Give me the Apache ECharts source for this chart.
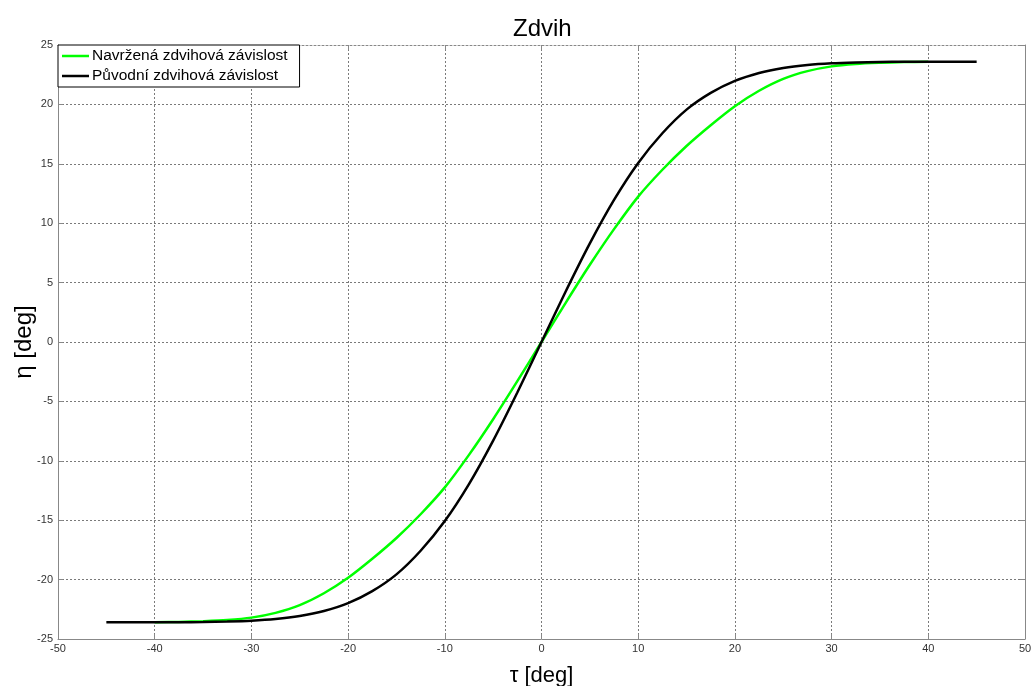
<!DOCTYPE html>
<html>
<head>
<meta charset="utf-8">
<script src="https://cdn.jsdelivr.net/npm/echarts@6/dist/echarts.min.js"></script>
<style>
html,body{margin:0;padding:0;background:#fff;}
#chart{width:1033px;height:686px;}
</style>
</head>
<body>
<div id="chart"></div>
<script>
// ---- data ----
const titleText = 'Zdvih';
const xName = '\u03C4 [deg]';
const yName = '\u03B7 [deg]';
const seriesNames = ['Navržená zdvihová závislost', 'Původní zdvihová závislost'];

const tauGreen = [-40, -37.5, -35, -32.5, -30, -27.5, -25, -22.5, -20, -17.5, -15, -12.5, -10, -7.5, -5, -2.5, 0,
                  2.5, 5, 7.5, 10, 12.5, 15, 17.5, 20, 22.5, 25, 27.5, 30, 32.5, 35, 37.5, 40];
const etaGreen = [-23.6, -23.56, -23.5, -23.4, -23.2, -22.8, -22.15, -21.15, -19.85, -18.25, -16.5, -14.5, -12.24, -9.5, -6.5, -3.3, 0,
                  3.3, 6.5, 9.5, 12.24, 14.5, 16.5, 18.25, 19.85, 21.15, 22.15, 22.8, 23.2, 23.4, 23.5, 23.56, 23.6];

const tauBlack = [-45, -42.5, -40, -37.5, -35, -32.5, -30, -27.5, -25, -22.5, -20, -17.5, -15, -12.5, -10, -7.5, -5, -2.5, 0,
                  2.5, 5, 7.5, 10, 12.5, 15, 17.5, 20, 22.5, 25, 27.5, 30, 32.5, 35, 37.5, 40, 42.5, 45];
const etaBlack = [-23.6, -23.6, -23.6, -23.59, -23.57, -23.53, -23.46, -23.32, -23.07, -22.65, -21.98, -20.97, -19.56, -17.57, -15.07, -11.96, -8.3, -4.25, 0,
                  4.25, 8.3, 11.96, 15.07, 17.57, 19.56, 20.97, 21.98, 22.65, 23.07, 23.32, 23.46, 23.53, 23.57, 23.59, 23.6, 23.6, 23.6];

const xMin = -50, xMax = 50, xStep = 10;
const yMin = -25, yMax = 25, yStep = 5;

function zip(a, b) { return a.map((v, i) => [v, b[i]]); }

const FONT = 'Liberation Sans, Arial, sans-serif';
const gridLine = { show: true, lineStyle: { color: '#7a7a7a', type: [2, 2], width: 1 } };

const chart = echarts.init(document.getElementById('chart'), null, { renderer: 'canvas' });
chart.setOption({
  animation: false,
  backgroundColor: '#fff',
  title: {
    text: titleText, left: 508, top: 12,
    textStyle: { fontFamily: FONT, fontSize: 24, fontWeight: 'normal', color: '#000' }
  },
  grid: { left: 58, right: 8, top: 45, bottom: 47, containLabel: false, outerBoundsMode: 'none' },
  legend: {
    left: 58, top: 45, orient: 'vertical',
    backgroundColor: '#fff', borderColor: '#000', borderWidth: 1,
    padding: [3, 12, 3, 4], itemGap: 4, itemWidth: 27, itemHeight: 2.5,
    icon: 'rect',
    textStyle: { fontFamily: FONT, fontSize: 15.5, color: '#000', padding: [0, 0, 0, -2] },
    data: seriesNames
  },
  xAxis: [{
    type: 'value', min: xMin, max: xMax, interval: xStep,
    name: xName, nameLocation: 'middle', nameGap: 26, nameMoveOverlap: false,
    nameTextStyle: { fontFamily: FONT, fontSize: 22, color: '#000' },
    axisLine: { show: true, onZero: false, lineStyle: { color: '#888', width: 1 } },
    axisTick: { show: true, inside: true, length: 5, lineStyle: { color: '#888' } },
    axisLabel: { fontFamily: FONT, fontSize: 11, color: '#333', margin: 4 },
    splitLine: gridLine
  }, {
    type: 'value', position: 'top', min: xMin, max: xMax, interval: xStep,
    axisLine: { show: true, onZero: false, lineStyle: { color: '#888', width: 1, type: [2, 2] } },
    axisTick: { show: true, inside: true, length: 5, lineStyle: { color: '#888' } },
    axisLabel: { show: false }, splitLine: { show: false }
  }],
  yAxis: [{
    type: 'value', min: yMin, max: yMax, interval: yStep,
    name: yName, nameLocation: 'middle', nameGap: 22, nameMoveOverlap: false,
    nameTextStyle: { fontFamily: FONT, fontSize: 24, color: '#000' },
    axisLine: { show: true, onZero: false, lineStyle: { color: '#888', width: 1 } },
    axisTick: { show: true, inside: true, length: 5, lineStyle: { color: '#888' } },
    axisLabel: { fontFamily: FONT, fontSize: 11, color: '#333', margin: 5 },
    splitLine: gridLine
  }, {
    type: 'value', position: 'right', min: yMin, max: yMax, interval: yStep,
    axisLine: { show: true, onZero: false, lineStyle: { color: '#888', width: 1 } },
    axisTick: { show: true, inside: true, length: 5, lineStyle: { color: '#888' } },
    axisLabel: { show: false }, splitLine: { show: false }
  }],
  series: [{
    name: seriesNames[0], type: 'line', data: zip(tauGreen, etaGreen),
    showSymbol: false, smooth: 0.3,
    itemStyle: { color: '#00ff00' },
    lineStyle: { color: '#00ff00', width: 2.5 }
  }, {
    name: seriesNames[1], type: 'line', data: zip(tauBlack, etaBlack),
    showSymbol: false, smooth: 0.3,
    itemStyle: { color: '#000' },
    lineStyle: { color: '#000', width: 2.5 }
  }]
});
</script>
</body>
</html>
